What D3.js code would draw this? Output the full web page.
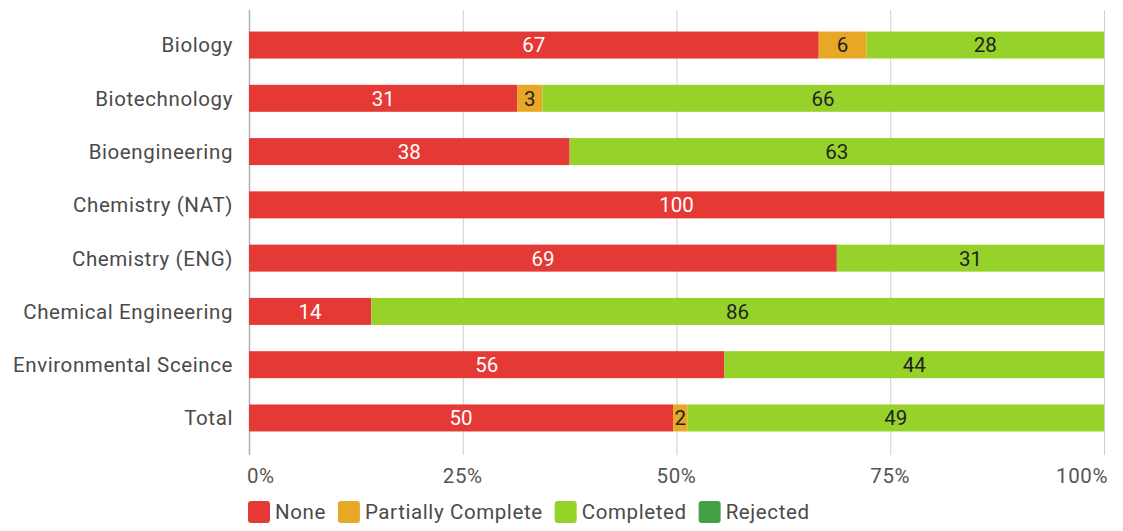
<!DOCTYPE html>
<html><head><meta charset="utf-8">
<script src="https://cdn.jsdelivr.net/npm/d3@7"></script>
<style>body{margin:0;background:#fff;font-family:Roboto,"Noto Sans",sans-serif;}</style>
</head><body><svg id="c" width="1123" height="531"></svg>
<script>
const categories = ["Biology","Biotechnology","Bioengineering","Chemistry (NAT)","Chemistry (ENG)","Chemical Engineering","Environmental Sceince","Total"];
const seriesNames = ["None","Partially Complete","Completed","Rejected"];
const colors = ["#e53935","#e8a725","#97d22b","#43a047"];
const none      = [66.7, 31.4, 37.5, 100, 68.75, 14.3, 55.6, 49.6];
const partial   = [5.6, 2.9, 0, 0, 0, 0, 0, 1.7];
const completed = [27.8, 65.7, 62.5, 0, 31.25, 85.7, 44.4, 48.7];
const rejected  = [0, 0, 0, 0, 0, 0, 0, 0];
const tickValues = [0, 25, 50, 75, 100];
const tickLabels = ["0%","25%","50%","75%","100%"];

const svg = d3.select("#c");
const x = d3.scaleLinear().domain([0,100]).range([249,1104]);
const y = d3.scalePoint().domain(categories).range([18.4,444.6]).padding(0.5);
const bh = 27;

// grid
svg.append("g").selectAll("line").data(tickValues).join("line")
  .attr("x1",d=>x(d)+0.5).attr("x2",d=>x(d)+0.5).attr("y1",10).attr("y2",455)
  .attr("stroke",(d,i)=>i===0?"#b0b0b0":"#cfcfcf").attr("stroke-width",(d,i)=>i===0?1.5:1);

const series = [none, partial, completed, rejected];
const rows = categories.map((c,i)=>{
  const vals = series.map(s=>s[i]);
  const tot = d3.sum(vals);
  let acc = 0;
  return vals.map((v,k)=>{const s={cat:c,k,v,p0:acc/tot*100,p1:(acc+v)/tot*100}; acc+=v; return s;});
}).flat().filter(d=>d.v>0);

svg.append("g").selectAll("rect").data(rows).join("rect")
  .attr("x",d=>x(d.p0)).attr("width",d=>x(d.p1)-x(d.p0))
  .attr("y",d=>y(d.cat)-bh/2).attr("height",bh)
  .attr("fill",d=>colors[d.k]);

svg.append("g").selectAll("text").data(rows).join("text")
  .attr("x",d=>(x(d.p0)+x(d.p1))/2).attr("y",d=>y(d.cat)).attr("dy","0.36em")
  .attr("text-anchor","middle").attr("font-size",20.5)
  .attr("fill",d=>d.k===0?"#ffffff":"#222")
  .text(d=>Math.round(d.v));

// category labels
svg.append("g").selectAll("text").data(categories).join("text")
  .attr("x",233).attr("y",d=>y(d)).attr("dy","0.36em").attr("text-anchor","end")
  .attr("font-size",20.5).attr("letter-spacing","0.6px").attr("fill","#4a4a4a").text(d=>d);

// x tick labels
svg.append("g").selectAll("text").data(tickValues).join("text")
  .attr("x",(d,i)=>i===0?247:(i===4?1108:x(d)))
  .attr("y",476).attr("dy","0.36em")
  .attr("text-anchor",(d,i)=>i===0?"start":(i===4?"end":"middle"))
  .attr("font-size",20.5).attr("letter-spacing","0.6px").attr("fill","#555").text((d,i)=>tickLabels[i]);

// legend
const lg = svg.append("g");
let lx = 248;
seriesNames.forEach((n,i)=>{
  const g = lg.append("g").attr("transform",`translate(${lx},501)`);
  g.append("rect").attr("width",22).attr("height",22).attr("rx",3).attr("fill",colors[i]);
  const t = g.append("text").attr("x",27).attr("y",11).attr("dy","0.36em").attr("font-size",20.5)
    .attr("letter-spacing","0.6px").attr("fill","#4a4a4a").text(n);
  lx += 27 + t.node().getComputedTextLength() + 12;
});
</script></body></html>
